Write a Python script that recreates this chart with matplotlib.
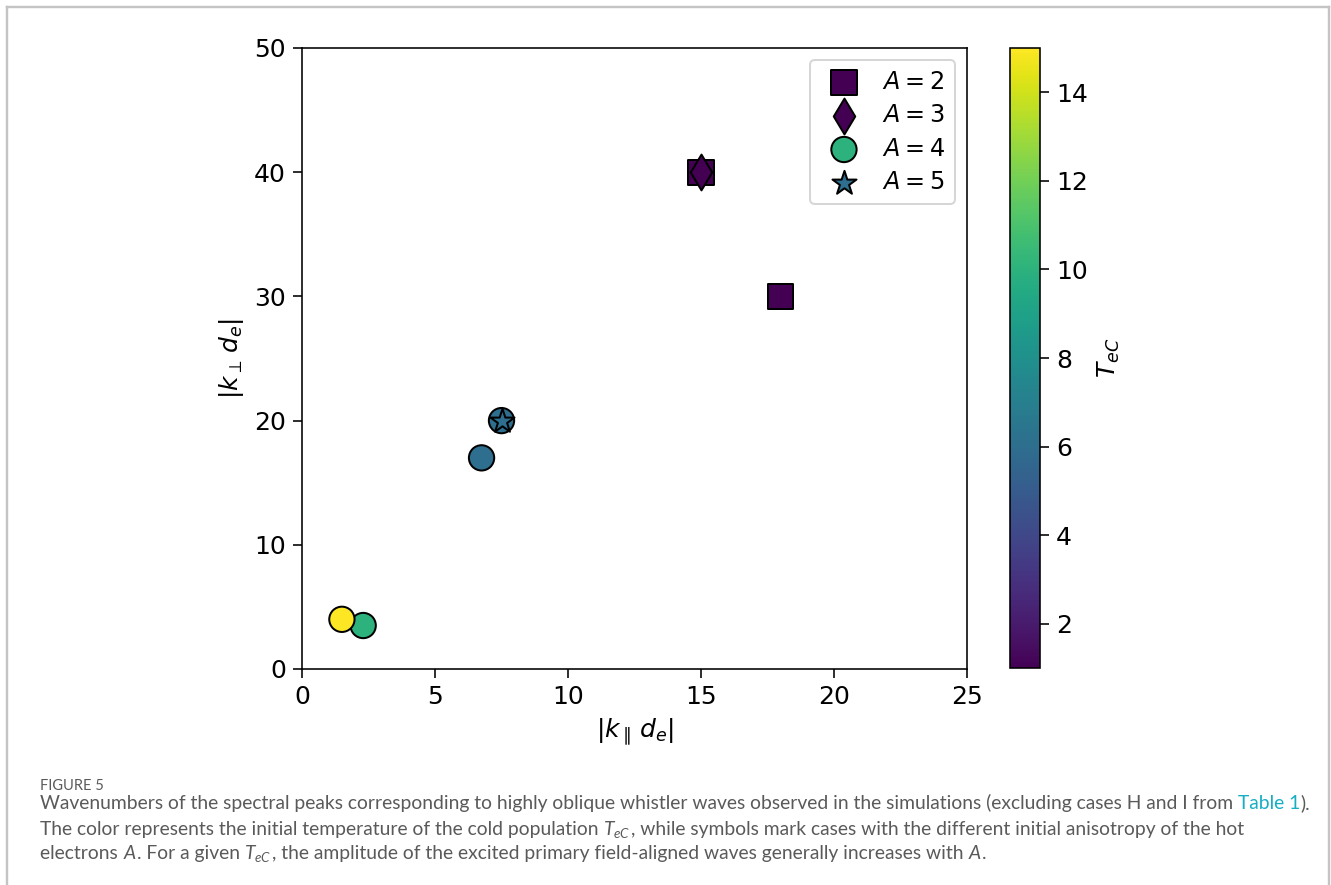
import matplotlib
matplotlib.use('Agg')
import matplotlib.pyplot as plt
from matplotlib.lines import Line2D

# Peak wavenumbers for each anisotropy A
a2_kpar = [15, 18]
a2_kperp = [40, 30]
a2_temp = [1, 1]

a3_kpar = [15]
a3_kperp = [40]
a3_temp = [1]

a4_kpar = [2.3, 1.5, 6.75, 7.5]
a4_kperp = [3.5, 4, 17, 20]
a4_temp = [10, 15, 6, 6]

a5_kpar = [7.5]
a5_kperp = [20]
a5_temp = [6]

W, H, DPI = 1331, 885, 144

plt.rcParams['font.size'] = 12.5
plt.rcParams['xtick.major.size'] = 4.5
plt.rcParams['ytick.major.size'] = 4.5
plt.rcParams['mathtext.fontset'] = 'dejavusans'
plt.rcParams['mathtext.rm'] = 'Lato'
plt.rcParams['mathtext.it'] = 'Lato:italic'

fig = plt.figure(figsize=(W / DPI, H / DPI), dpi=DPI)
ax = fig.add_axes([302 / W, 1 - 669 / H, 665 / W, 621 / H])
cax = fig.add_axes([1010 / W, 1 - 668 / H, 30 / W, 620 / H])

common = dict(cmap='viridis', vmin=1, vmax=15, s=160, edgecolors='k', linewidths=1.0)
sc = ax.scatter(a2_kpar, a2_kperp, c=a2_temp, marker='s', label='$A = 2$', **common)
ax.scatter(a3_kpar, a3_kperp, c=a3_temp, marker='d', label='$A = 3$', **common)
ax.scatter(a4_kpar, a4_kperp, c=a4_temp, marker='o', label='$A = 4$', **common)
ax.scatter(a5_kpar, a5_kperp, c=a5_temp, marker='*', label='$A = 5$', **common)

ax.set_xlim(0, 25)
ax.set_ylim(0, 50)
ax.set_xticks([0, 5, 10, 15, 20, 25])
ax.set_yticks([0, 10, 20, 30, 40, 50])
ax.set_xlabel(r'$|k_\parallel\, d_e|$')
ax.set_ylabel(r'$|k_\perp\, d_e|$')
ax.legend(loc='upper right', fontsize=12, labelspacing=0.4, handletextpad=0.6)

cb = fig.colorbar(sc, cax=cax)
cb.set_ticks([2, 4, 6, 8, 10, 12, 14])
cb.set_label('$T_{eC}$')

# frame around the figure panel
grey = '#c4c4c4'
for xs, ys in [([7, 7], [H, 7]), ([7, 1329], [7, 7]), ([1329, 1329], [7, H])]:
    fig.add_artist(Line2D([x / W for x in xs], [1 - y / H for y in ys],
                          transform=fig.transFigure, color=grey, lw=1.2))

# caption
txt_col = '#5a5a5a'
link_col = '#17aec4'

fig.text(40 / W, 1 - 790 / H, 'FIGURE 5', fontsize=7.3, va='baseline',
         family='Lato', color=txt_col)

lines = [
    [('Wavenumbers of the spectral peaks corresponding to highly oblique whistler waves '
      'observed in the simulations (excluding cases H and I from ', txt_col),
     ('Table 1', link_col), (').', txt_col)],
    [('The color represents the initial temperature of the cold population ', txt_col),
     ('$T_{eC}$', txt_col),
     (', while symbols mark cases with the different initial anisotropy of the hot', txt_col)],
    [('electrons ', txt_col), ('$A$', txt_col), ('. For a given ', txt_col), ('$T_{eC}$', txt_col),
     (', the amplitude of the excited primary field-aligned waves generally increases with ', txt_col),
     ('$A$', txt_col), ('.', txt_col)],
]
baselines = [809, 835, 859]

renderer = fig.canvas.get_renderer()


def place_line(segments, y, size):
    x = 40
    arts = []
    for s, col in segments:
        t = fig.text(x / W, 1 - y / H, s, fontsize=size, va='baseline', ha='left',
                     family='Lato', color=col, math_fontfamily='custom')
        x = t.get_window_extent(renderer).x1
        arts.append(t)
    return x, arts


# fit the first line width to the reference
end, arts = place_line(lines[0], baselines[0], 9)
for a in arts:
    a.remove()
size = 9 * (1316 - 40) / (end - 40)

for segs, y in zip(lines, baselines):
    place_line(segs, y, size)

fig.savefig('out.png', dpi=DPI)
